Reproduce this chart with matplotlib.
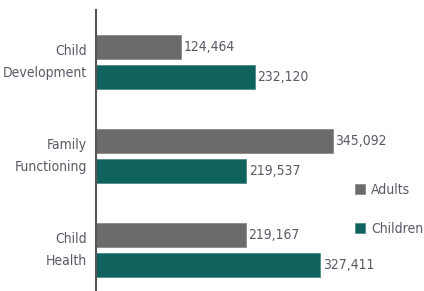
import numpy as np
import matplotlib.pyplot as plt
import matplotlib.transforms as mtransforms

categories = ["Child\nDevelopment", "Family\nFunctioning", "Child\nHealth"]
adults = [124464, 345092, 219167]
children = [232120, 219537, 327411]

plt.rcParams['font.family'] = ['DejaVu Sans']
plt.rcParams['font.stretch'] = 'condensed'

gray = "#6b6b6b"
teal = "#0f625e"
text_color = "#5a5a66"

fig = plt.figure(figsize=(4.24, 2.91), dpi=100)
ax = fig.add_axes([95.5 / 424, 0, (424 - 95.5) / 424, 1 - 10 / 291])

y = np.arange(len(categories))
h = 0.255
off = 0.16
ax.barh(y - off, adults, height=h, color=gray, edgecolor="#8a8a8a", linewidth=0.6, label="Adults")
ax.barh(y + off, children, height=h, color=teal, edgecolor="#4f8c88", linewidth=0.6, label="Children")

fs = 10
for yi, a, c in zip(y, adults, children):
    ax.text(a + 3500, yi - off, f"{a:,}", va="center", ha="left", fontsize=fs, color=text_color)
    ax.text(c + 3500, yi + off, f"{c:,}", va="center", ha="left", fontsize=fs, color=text_color)

ax.set_yticks(y)
ax.set_yticklabels(categories, fontsize=fs, color=text_color, linespacing=1.75)
ax.tick_params(axis="y", length=0, pad=6)
# nudge the category labels up a little
shift = mtransforms.ScaledTranslation(0, 4 / 72, fig.dpi_scale_trans)
for lab in ax.get_yticklabels():
    lab.set_transform(lab.get_transform() + shift)
ax.set_xticks([])
ax.set_xlim(0, (424 - 95.5) / (237 / 345092))
ax.set_ylim(2.436, -0.548)
for s in ["top", "right", "bottom"]:
    ax.spines[s].set_visible(False)
ax.spines["left"].set_color("#555555")
ax.spines["left"].set_linewidth(1.5)

ax.legend(loc="upper left", bbox_to_anchor=((355 - 95.5) / 328.5, 0.385), frameon=False,
          fontsize=fs, handlelength=0.7, handleheight=0.7, handletextpad=0.45,
          labelspacing=1.8, labelcolor=text_color, borderpad=0, borderaxespad=0)

fig.savefig("out.png", dpi=100)
